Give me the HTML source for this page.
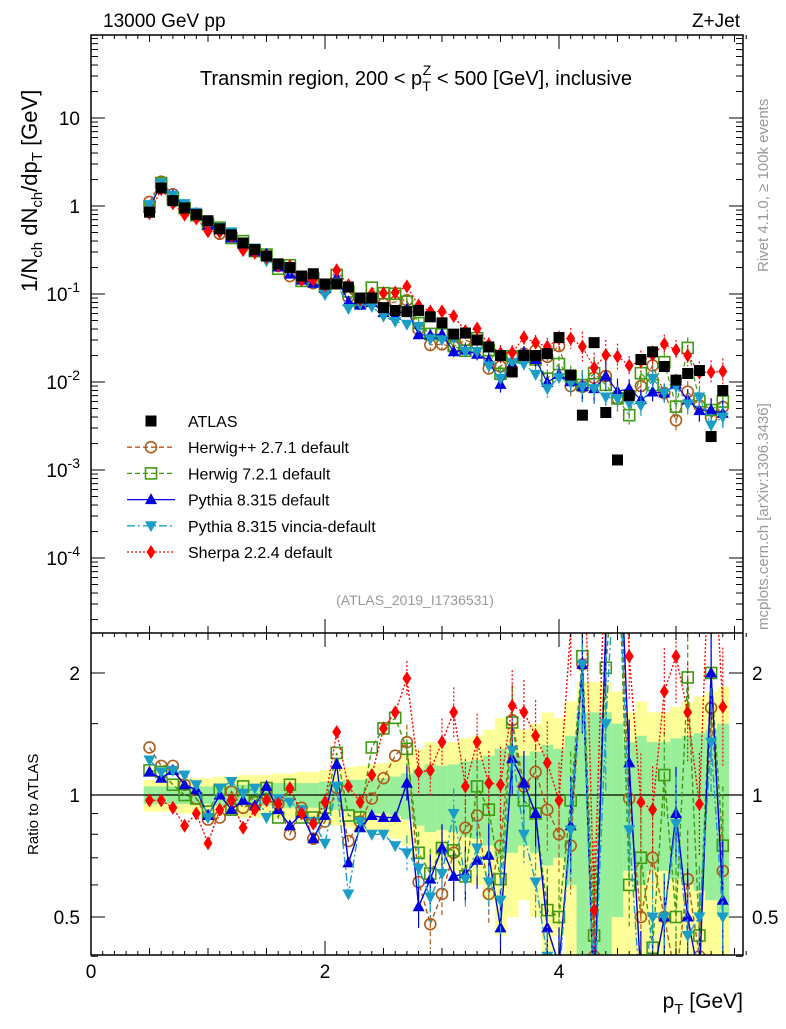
<!DOCTYPE html>
<html><head><meta charset="utf-8"><style>
body{margin:0;background:#fff}
svg{font-family:"Liberation Sans",sans-serif}
</style></head><body>
<svg id="c" width="786" height="1024" xmlns="http://www.w3.org/2000/svg">
<defs>
<clipPath id="cm"><rect x="91" y="35" width="652" height="598"/></clipPath>
<clipPath id="cr"><rect x="91" y="633" width="652" height="322"/></clipPath>
</defs>
<g id="bands" clip-path="url(#cr)"></g>
<g id="mainMarks" clip-path="url(#cm)"></g>
<g id="ratioMarks" clip-path="url(#cr)"></g>
<g id="axes"></g>
<text x="103" y="27" font-size="19">13000 GeV pp</text>
<text x="740" y="27" font-size="19" text-anchor="end">Z+Jet</text>
<text x="416" y="85" font-size="20" text-anchor="middle">Transmin region, 200 &lt; p<tspan font-size="14" dy="6">T</tspan><tspan font-size="14" dx="-8" dy="-16">Z</tspan><tspan dy="10"> &lt; 500 [GeV], inclusive</tspan></text>
<text transform="translate(37,292) rotate(-90)" font-size="22">1/N<tspan font-size="15" dy="5">ch</tspan><tspan dy="-5"> dN</tspan><tspan font-size="15" dy="5">ch</tspan><tspan dy="-5">/dp</tspan><tspan font-size="15" dy="5">T</tspan><tspan dy="-5"> [GeV]</tspan></text>
<text transform="translate(768,272) rotate(-90)" font-size="15" fill="#999">Rivet 4.1.0, ≥ 100k events</text>
<text transform="translate(768,630) rotate(-90)" font-size="15" fill="#999">mcplots.cern.ch [arXiv:1306.3436]</text>
<text x="415" y="605" font-size="14" fill="#999" text-anchor="middle">(ATLAS_2019_I1736531)</text>
<text transform="translate(38,855) rotate(-90)" font-size="15">Ratio to ATLAS</text>
<text x="743" y="1008" font-size="21" text-anchor="end">p<tspan font-size="15" dy="6">T</tspan><tspan dy="-6"> [GeV]</tspan></text>
<g id="legend"></g>
</svg>
<script>
const xs=[0.5,0.6,0.7,0.8,0.9,1.0,1.1,1.2,1.3,1.4,1.5,1.6,1.7,1.8,1.9,2.0,2.1,2.2,2.3,2.4,2.5,2.6,2.7,2.8,2.9,3.0,3.1,3.2,3.3,3.4,3.5,3.6,3.7,3.8,3.9,4.0,4.1,4.2,4.3,4.4,4.5,4.6,4.7,4.8,4.9,5.0,5.1,5.2,5.3,5.4];
const atlas=[0.85,1.6,1.15,0.95,0.8,0.68,0.55,0.47,0.38,0.32,0.27,0.22,0.2,0.16,0.17,0.13,0.13,0.12,0.09,0.09,0.07,0.065,0.063,0.065,0.055,0.047,0.035,0.036,0.03,0.025,0.02,0.013,0.02,0.02,0.021,0.032,0.012,0.0042,0.028,0.0045,0.0013,0.007,0.018,0.022,0.015,0.0105,0.0125,0.0135,0.0024,0.008];
const totErr=[0.09,0.09,0.09,0.10,0.10,0.10,0.11,0.11,0.12,0.12,0.12,0.13,0.13,0.14,0.14,0.15,0.16,0.17,0.18,0.19,0.20,0.22,0.25,0.30,0.35,0.33,0.35,0.38,0.40,0.45,0.55,0.50,0.45,0.50,0.60,0.55,0.70,0.90,0.90,0.90,0.80,0.60,0.70,0.60,0.60,0.65,0.70,0.75,0.80,0.85];
const statErr=[0.05,0.05,0.05,0.05,0.05,0.05,0.06,0.06,0.06,0.06,0.06,0.07,0.07,0.07,0.07,0.08,0.08,0.09,0.09,0.10,0.10,0.11,0.13,0.16,0.19,0.18,0.19,0.21,0.22,0.25,0.30,0.28,0.25,0.28,0.33,0.30,0.40,0.60,0.60,0.60,0.50,0.35,0.40,0.35,0.35,0.38,0.40,0.42,0.45,0.50];
const herwigpp=[1.31,1.18,1.18,1.06,0.98,0.87,0.88,1.02,0.93,0.96,1.00,0.95,0.80,0.93,0.78,0.86,1.04,0.77,0.86,0.98,1.10,1.25,1.35,0.61,0.48,0.57,0.72,0.83,0.89,0.57,0.75,1.53,1.05,1.14,0.92,0.80,0.75,2.10,0.40,2.60,5.00,0.98,0.50,0.70,0.50,0.35,0.62,0.40,1.64,0.65];
const herwig7=[1.15,1.14,1.06,1.00,0.98,0.91,1.03,0.92,1.05,0.96,1.04,0.88,1.06,0.88,0.88,0.93,1.27,0.89,0.88,1.31,1.46,1.55,1.30,0.72,0.64,0.74,0.73,0.63,1.05,0.92,0.62,1.51,0.97,0.90,0.52,0.50,0.97,2.20,0.45,2.06,5.00,0.60,0.70,0.42,1.12,0.50,1.95,0.45,2.00,0.75];
const pythia=[1.14,1.10,1.15,1.06,1.03,0.89,1.00,0.92,0.97,0.94,1.05,0.92,0.84,0.90,0.78,0.89,1.19,0.68,0.83,0.89,0.88,0.88,1.07,0.53,0.62,0.74,0.63,0.64,0.69,0.71,0.47,1.23,1.07,0.90,0.47,0.38,0.84,2.10,0.30,2.60,6.00,1.20,0.35,0.35,0.50,0.90,0.50,0.35,2.00,0.55];
const vincia=[1.22,1.14,1.15,1.12,1.06,0.88,1.04,1.08,1.01,1.04,0.88,0.98,0.96,0.92,0.86,0.76,1.05,0.57,0.86,0.80,0.80,0.75,0.72,0.66,0.56,0.64,0.90,0.62,0.74,0.61,0.55,1.29,0.80,0.61,0.40,0.35,0.82,2.10,0.30,1.50,5.00,0.82,0.30,0.50,0.50,0.85,0.45,0.50,1.35,0.50];
const sherpa=[0.97,0.97,0.93,0.84,0.90,0.76,0.92,0.97,0.83,0.92,0.97,0.95,1.04,0.90,0.85,0.96,1.43,1.05,0.96,1.12,1.46,1.60,1.94,1.14,1.15,1.35,1.60,1.05,1.35,1.07,1.06,1.66,1.60,1.40,1.20,0.97,2.60,6.00,0.52,4.50,15.0,2.20,0.96,0.92,1.80,2.20,1.60,0.95,5.40,1.65];
const xTicks=[0,2,4];
const mainTicks=[["10",""],["1",""],["10","-1"],["10","-2"],["10","-3"],["10","-4"]];
const mainTickExp=[1,0,-1,-2,-3,-4];
const ratioTicks=[["2",2],["1",1],["0.5",0.5]];

const NS="http://www.w3.org/2000/svg";
const X=v=>91+117*v;
const Ym=v=>206-88*Math.log10(v);
const Yr=r=>795-122*Math.log2(r);
const ce=(p,t,a)=>{const e=document.createElementNS(NS,t);for(const k in a)e.setAttribute(k,a[k]);p.appendChild(e);return e;};
const G=id=>document.getElementById(id);

const bands=G('bands');
xs.forEach((x,i)=>{
  const x0=X(x-0.05),w=117*0.1;
  let lo=Math.max(1-totErr[i],0.3),hi=1+totErr[i];
  const r=ce(bands,'rect',{x:x0,y:Yr(hi),width:w+0.5,height:Yr(lo)-Yr(hi),fill:'#ffff99'});
  
  
  lo=Math.max(1-statErr[i],0.3);hi=1+statErr[i];
  const g=ce(bands,'rect',{x:x0,y:Yr(hi),width:w+0.5,height:Yr(lo)-Yr(hi),fill:'#99ee99'});
  
  
});

const series=[
 {name:'herwigpp',data:herwigpp,color:'#b05a1a',dash:'5,3',m:'circle',label:'Herwig++ 2.7.1 default'},
 {name:'herwig7',data:herwig7,color:'#409a10',dash:'5,3',m:'square',label:'Herwig 7.2.1 default'},
 {name:'pythia',data:pythia,color:'#0000e0',dash:'',m:'tri',label:'Pythia 8.315 default'},
 {name:'vincia',data:vincia,color:'#1a9ec8',dash:'8,3,2,3',m:'dtri',label:'Pythia 8.315 vincia-default'},
 {name:'sherpa',data:sherpa,color:'#ff0000',dash:'2,2',m:'diamond',label:'Sherpa 2.2.4 default'}];

function marker(p,m,x,y,c,nm){
  let e;
  if(m==='circle')e=ce(p,'circle',{cx:x,cy:y,r:5.5,fill:'none',stroke:c,'stroke-width':1.6});
  else if(m==='square')e=ce(p,'rect',{x:x-5.5,y:y-5.5,width:11,height:11,fill:'none',stroke:c,'stroke-width':1.6});
  else if(m==='fsquare')e=ce(p,'rect',{x:x-5.5,y:y-5.5,width:11,height:11,fill:c});
  else if(m==='tri')e=ce(p,'polygon',{points:`${x},${y-6.5} ${x-6},${y+4.5} ${x+6},${y+4.5}`,fill:c});
  else if(m==='dtri')e=ce(p,'polygon',{points:`${x},${y+6.5} ${x-6},${y-4.5} ${x+6},${y-4.5}`,fill:c});
  else e=ce(p,'polygon',{points:`${x},${y-7} ${x-4.5},${y} ${x},${y+7} ${x+4.5},${y}`,fill:c});
  
  
  return e;
}

const mm=G('mainMarks'),rm=G('ratioMarks');
const rl=ce(rm,'line',{x1:91,x2:743,y1:Yr(1),y2:Yr(1),stroke:'#000','stroke-width':1.3});



series.forEach(s=>{
  const mp=xs.map((x,i)=>`${X(x)},${Ym(atlas[i]*s.data[i])}`).join(' ');
  const rp=xs.map((x,i)=>`${X(x)},${Yr(s.data[i])}`).join(' ');
  const l1=ce(mm,'polyline',{points:mp,fill:'none',stroke:s.color,'stroke-width':1.2,'stroke-dasharray':s.dash});
  
  
  const l2=ce(rm,'polyline',{points:rp,fill:'none',stroke:s.color,'stroke-width':1.4,'stroke-dasharray':s.dash});
  
  
  xs.forEach((x,i)=>{
    const e=statErr[i]*0.8;
    if(e>0.1){
      const b=ce(rm,'line',{x1:X(x),x2:X(x),y1:Yr(s.data[i]*(1+e)),y2:Yr(s.data[i]/(1+e)),stroke:s.color,'stroke-width':1.2,'stroke-dasharray':s.dash});
      
      
      const b2=ce(mm,'line',{x1:X(x),x2:X(x),y1:Ym(atlas[i]*s.data[i]*(1+e)),y2:Ym(atlas[i]*s.data[i]/(1+e)),stroke:s.color,'stroke-width':1.2,'stroke-dasharray':s.dash});
      
      
    }
    marker(mm,s.m,X(x),Ym(atlas[i]*s.data[i]),s.color,s.name+'-point');
    marker(rm,s.m,X(x),Yr(s.data[i]),s.color,s.name+'-ratio-point');
  });
});
xs.forEach((x,i)=>marker(mm,'fsquare',X(x),Ym(atlas[i]),'#000','atlas-point'));

const ax=G('axes');
const fr=ce(ax,'rect',{x:91,y:35,width:652,height:920,fill:'none',stroke:'#000','stroke-width':1.5});


const sep=ce(ax,'line',{x1:91,x2:743,y1:633,y2:633,stroke:'#000','stroke-width':1.5});


function tick(x1,y1,x2,y2,nm){const t=ce(ax,'line',{x1,y1,x2,y2,stroke:'#000','stroke-width':1});
  
  }
for(let v=0;v<=5.5;v+=0.5){
  const L=(Math.abs(v%2)<1e-6)?14:7;
  [35,633,955].forEach(y=>{tick(X(v),y,X(v),y+(y===955?-L:L),'x-tick');if(y===633)tick(X(v),633,X(v),633-L,'x-tick');});
}
for(let v=0.1;v<5.6;v+=0.1){[35,633,955].forEach(y=>tick(X(v),y,X(v),y+(y===955?-4:4),'x-minor-tick'));}
xTicks.forEach(v=>{const t=ce(ax,'text',{x:X(v),y:978,'font-size':19,'text-anchor':'middle'});t.textContent=v;
  
  });
for(let d=-5;d<=2;d++){for(let k=1;k<10;k++){const v=k*Math.pow(10,d);const y=Ym(v);if(y<35||y>633)continue;
  const L=k===1?14:7;tick(91,y,91+L,y,'y-tick');tick(743,y,743-L,y,'y-tick');}}
mainTicks.forEach(([b,e],i)=>{const y=Ym(Math.pow(10,mainTickExp[i]));
  const t=ce(ax,'text',{x:80,y:y+7,'font-size':19,'text-anchor':'end'});
  
  
  t.appendChild(document.createTextNode(b));
  if(e){const s=ce(t,'tspan',{'font-size':14,dy:-9});s.textContent=e;}
});
[0.4,0.5,0.6,0.7,0.8,0.9,1,1.5,2].forEach(r=>{const y=Yr(r);const L=(r===0.5||r===1||r===2)?14:7;tick(91,y,91+L,y,'ratio-tick');tick(743,y,743-L,y,'ratio-tick');});
ratioTicks.forEach(([s,r])=>{
  const t=ce(ax,'text',{x:80,y:Yr(r)+7,'font-size':19,'text-anchor':'end'});t.textContent=s;
  
  
  const t2=ce(ax,'text',{x:752,y:Yr(r)+7,'font-size':19});t2.textContent=s;
  
  
});

const lg=G('legend');
const items=[{label:'ATLAS',m:'fsquare',color:'#000',dash:null}].concat(series);
items.forEach((s,i)=>{
  const y=421+i*26.2;
  const g=ce(lg,'g',{});
  
  
  if(s.dash!==null){ce(g,'line',{x1:127,x2:175,y1:y,y2:y,stroke:s.color,'stroke-width':1.3,'stroke-dasharray':s.dash});}
  marker(g,s.m,151,y,s.color,'legend-marker');
  const t=ce(g,'text',{x:188,y:y+6,'font-size':16});t.textContent=s.label;
});
</script>
</body></html>
